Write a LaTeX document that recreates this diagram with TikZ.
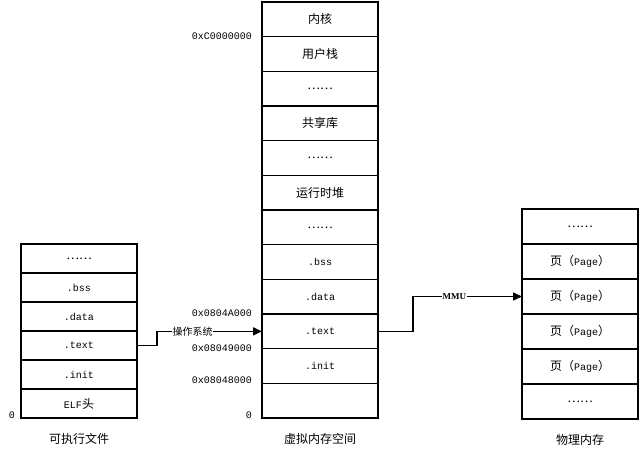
\documentclass[tikz,border=0pt]{standalone}
\usepackage{fontspec}
\setmainfont{Liberation Mono}
\newfontfamily\cjk{Noto Sans CJK SC}
\newfontfamily\serif{Liberation Serif}
\usetikzlibrary{arrows.meta,positioning}
\newcommand{\zh}[1]{{\cjk\fontsize{12}{14}\selectfont #1}}
\newcommand{\ellrow}{\zh{……}}

\begin{document}
\begin{tikzpicture}[x=1pt,y=-1pt,font=\fontsize{10}{12}\selectfont,
 cell/.style={draw,line width=1.5pt,minimum width=116pt,minimum height=#1,inner sep=0pt,outer sep=0pt},
 addr/.style={inner sep=0pt},
 title/.style={font=\cjk\fontsize{12}{14}\selectfont},
 tag/.style={fill=white,inner sep=0.5pt},
 arr/.style={-{Triangle[length=9pt,width=8pt]},line width=1.5pt}]
\useasboundingbox (0,0) rectangle (640,451);
% executable file
\node[cell=29pt] (l1) at (79,258.5) {\ellrow};
\node[cell=29pt,below=0pt of l1] (l2) {.bss};
\node[cell=29pt,below=0pt of l2] (l3) {.data};
\node[cell=29pt,below=0pt of l3] (l4) {.text};
\node[cell=29pt,below=0pt of l4] (l5) {.init};
\node[cell=29pt,below=0pt of l5] (l6) {ELF\zh{头}};
\node[addr,left=6pt of l6.south west,yshift=3pt] (lzero) {0};
\node[title,below=12pt of l6] (ltitle) {可执行文件};
% virtual memory
\node[cell=34.67pt] (m1) at (320,19.33) {\zh{内核}};
\node[cell=34.67pt,below=0pt of m1] (m2) {\zh{用户栈}};
\node[cell=34.67pt,below=0pt of m2] (m3) {\ellrow};
\node[cell=34.67pt,below=0pt of m3] (m4) {\zh{共享库}};
\node[cell=34.67pt,below=0pt of m4] (m5) {\ellrow};
\node[cell=34.67pt,below=0pt of m5] (m6) {\zh{运行时堆}};
\node[cell=34.67pt,below=0pt of m6] (m7) {\ellrow};
\node[cell=34.67pt,below=0pt of m7] (m8) {.bss};
\node[cell=34.67pt,below=0pt of m8] (m9) {.data};
\node[cell=34.67pt,below=0pt of m9] (m10) {.text};
\node[cell=34.67pt,below=0pt of m10] (m11) {.init};
\node[cell=34.67pt,below=0pt of m11] (m12) {};
\node[addr,left=10pt of m1.south west] (a1) {0xC0000000};
\node[addr,left=10pt of m9.south west,yshift=1pt] (a2) {0x0804A000};
\node[addr,left=10pt of m10.south west] (a3) {0x08049000};
\node[addr,left=10pt of m11.south west,yshift=3pt] (a4) {0x08048000};
\node[addr,left=10pt of m12.south west,yshift=3pt] (a5) {0};
\node[title,below=12pt of m12] (mtitle) {虚拟内存空间};
% physical memory
\node[cell=35pt] (p1) at (580,226.5) {\ellrow};
\node[cell=35pt,below=0pt of p1] (p2) {\zh{页（}Page\zh{）}};
\node[cell=35pt,below=0pt of p2] (p3) {\zh{页（}Page\zh{）}};
\node[cell=35pt,below=0pt of p3] (p4) {\zh{页（}Page\zh{）}};
\node[cell=35pt,below=0pt of p4] (p5) {\zh{页（}Page\zh{）}};
\node[cell=35pt,below=0pt of p5] (p6) {\ellrow};
\node[title,below=12pt of p6] (ptitle) {物理内存};
% mappings
\draw[arr] (l4.east) -- ++(20,0) |- (m10.west)
  node[tag,pos=0.67,font=\cjk\fontsize{10}{12}\selectfont] (os) {操作系统};
\draw[arr] (m10.east) -- ++(35,0) |- (p3.west)
  node[tag,pos=0.69,font=\serif\bfseries\fontsize{9}{11}\selectfont] (mmu) {MMU};
\end{tikzpicture}
\end{document}
